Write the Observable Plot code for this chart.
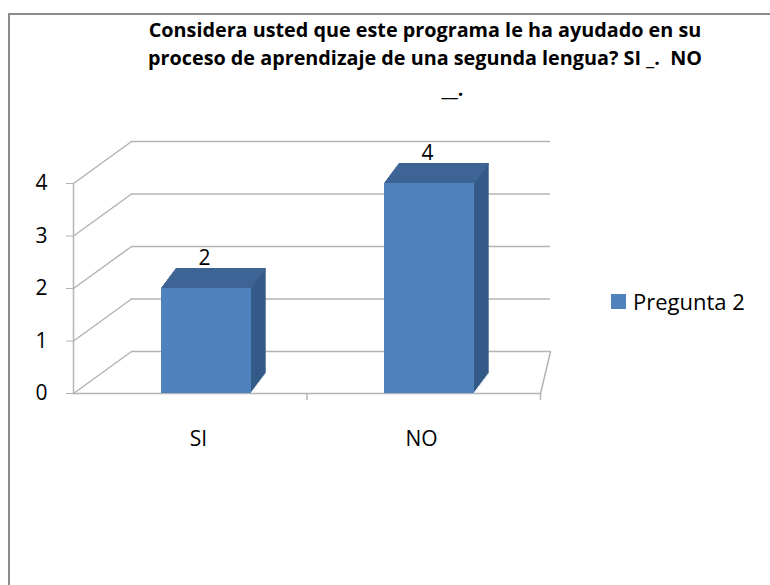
<!DOCTYPE html>
<html>
<head>
<meta charset="utf-8">
<script src="https://cdn.jsdelivr.net/npm/d3@7"></script>
<script src="https://cdn.jsdelivr.net/npm/@observablehq/plot@0.6"></script>
<style>
  body { margin: 0; background: #fff; }
  #wrap { position: relative; width: 770px; height: 585px; overflow: hidden; font-family: "Open Sans", sans-serif; color: #000; }
  #border { position: absolute; left: 8px; top: 13px; width: 800px; height: 620px; border-left: 2px solid #8c8c8c; border-top: 2px solid #8c8c8c; }
  #title { position: absolute; left: 75px; width: 700px; top: 16px; text-align: center; font-weight: bold; font-size: 19.8px; line-height: 28px; white-space: pre; }
  #title div:last-child { padding-left: 55px; margin-top: 3px; }
  #chart { position: absolute; left: 0; top: 0; }
  #legend { position: absolute; left: 611px; top: 286px; display: flex; align-items: center; font-size: 22px; line-height: 30px; }
  #legend .sw { width: 15px; height: 15px; margin-right: 7px; }
</style>
</head>
<body>
<div id="wrap">
  <div id="border"></div>
  <div id="chart"></div>
  <div id="title"></div>
  <div id="legend"></div>
</div>
<script>
// ---- data ----
const titleLines = [
  "Considera usted que este programa le ha ayudado en su",
  "proceso de aprendizaje de una segunda lengua? SI _.  NO",
  "__."
];
const categories = ["SI", "NO"];
const values = [2, 4];
const yTicks = [0, 1, 2, 3, 4];
const seriesName = "Pregunta 2";

// ---- styles ----
const frontColor = "#4f81bd";
const topColor = "#3d6494";
const sideColor = "#335a88";
const gridColor = "#b4b4b4";

const data = categories.map((c, i) => ({cat: c, value: values[i]}));

const titleEl = document.getElementById("title");
for (const line of titleLines) {
  const div = document.createElement("div");
  div.textContent = line;
  titleEl.appendChild(div);
}
document.getElementById("legend").innerHTML =
  `<div class="sw" style="background:${frontColor}"></div><span>${seriesName}</span>`;

// back-wall offset (oblique projection)
const DX = 58, DY = -42;
const wallAngle = Math.atan2(DX, -DY) * 180 / Math.PI;
const wallLen = Math.hypot(DX, DY);
const spike = {draw(ctx, l) { ctx.moveTo(0, 0); ctx.lineTo(0, -l); }};

// bar extrusion layers
const depth = d3.range(1, 15);
const bx = 1.05, by = -1.4;

const marks = [];
// back wall grid lines
marks.push(Plot.ruleY(yTicks, {dx: DX, dy: DY, insetRight: 48, stroke: gridColor, strokeWidth: 1.5}));
// left wall diagonals
marks.push(Plot.vector(yTicks, {y: d => d, frameAnchor: "left", anchor: "start", length: wallLen, rotate: wallAngle, shape: spike, stroke: gridColor, strokeWidth: 1.5}));
// floor right edge
marks.push(Plot.vector([0], {y: d => d, frameAnchor: "right", anchor: "start", length: Math.hypot(10, 42), rotate: Math.atan2(10, 42) * 180 / Math.PI, shape: spike, stroke: gridColor, strokeWidth: 1.5}));
// floor front edge
marks.push(Plot.ruleY([0], {stroke: gridColor, strokeWidth: 1.5}));
// y axis line
marks.push(Plot.vector([0], {y: d => d, frameAnchor: "left", anchor: "start", length: 210, rotate: 0, shape: spike, stroke: gridColor, strokeWidth: 1.5}));
// category boundary ticks
marks.push(Plot.vector([0], {frameAnchor: "bottom", anchor: "start", length: 6, rotate: 180, shape: spike, stroke: gridColor, strokeWidth: 1.5}));
marks.push(Plot.vector([0], {frameAnchor: "bottom-right", anchor: "start", length: 6, rotate: 180, shape: spike, stroke: gridColor, strokeWidth: 1.5}));
// bar sides
for (const i of depth) {
  marks.push(Plot.barY(data, {x: "cat", y: "value", fill: sideColor, dx: i * bx, dy: i * by}));
}
// bar tops
for (const i of [0, ...depth]) {
  marks.push(Plot.tickY(data, {x: "cat", y: "value", stroke: topColor, strokeWidth: 2, dx: i * bx, dy: i * by}));
}
// bar fronts
marks.push(Plot.barY(data, {x: "cat", y: "value", fill: frontColor}));
// value labels
marks.push(Plot.text(data, {x: "cat", y: "value", text: d => String(d.value), dy: -30, dx: -2, fontSize: 21, fill: "#000"}));
// axes
marks.push(Plot.axisY({ticks: yTicks, tickSize: 7, tickPadding: 19, fontSize: 21, stroke: gridColor, fill: "#000", tickFormat: d => String(d), label: null}));
marks.push(Plot.axisX({tickSize: 0, tickPadding: 38, fontSize: 21, fill: "#000", label: null, dx: -8}));

const chart = Plot.plot({
  width: 770,
  height: 585,
  marginLeft: 73,
  marginRight: 230,
  marginTop: 183,
  marginBottom: 192,
  style: {fontFamily: "'Open Sans', sans-serif", background: "transparent", color: "#000"},
  x: {domain: categories, range: [94, 541], paddingInner: 0.596, paddingOuter: 0.3, label: null},
  y: {domain: [0, 4], label: null},
  marks
});
document.getElementById("chart").appendChild(chart);
</script>
</body>
</html>
